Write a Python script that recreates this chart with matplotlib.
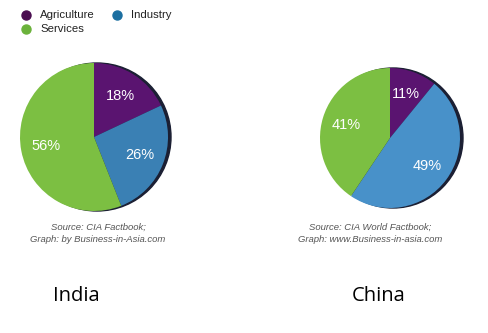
"""Sector share of GDP: India vs China, two pies side by side."""

import matplotlib
matplotlib.use("Agg")
import matplotlib.pyplot as plt
import matplotlib.patches as mpatches

sectors = ["Agriculture", "Industry", "Services"]
india_share = [18, 26, 56]
china_share = [11, 49, 41]

india_source = "Source: CIA Factbook;\nGraph: by Business-in-Asia.com"
china_source = "Source: CIA World Factbook;\nGraph: www.Business-in-asia.com"

W, H = 489, 333
SECTOR_COLOURS = {"india": ["#5a1470", "#3a80b4", "#7cbf42"],
                  "china": ["#5a1470", "#4891c9", "#7cbf42"]}
LEGEND_COLOURS = ["#4a0d50", "#1c6fa1", "#6bb23b"]


def draw_pie(ax, values, colours, cx, cy, r):
    total = sum(values)
    # thin dark rim peeking out on the right, fakes the 3D edge
    ax.add_patch(mpatches.Circle((cx + 3, cy), r, color="#1b1f33", zorder=1))
    wedges, _, autotexts = ax.pie(
        values, colors=colours, center=(cx, cy), radius=r,
        startangle=90, counterclock=False,
        # show the stated figure, not the renormalised share (China adds to 101)
        autopct=lambda p: f"{round(p * total / 100):d}%", pctdistance=0.66,
        wedgeprops=dict(linewidth=0),
        textprops=dict(color="white", fontsize=10.5, family="Liberation Sans"),
    )
    for w in wedges:
        w.set_zorder(2)
    for t in autotexts:
        t.set_zorder(3)


fig = plt.figure(figsize=(W / 100, H / 100), dpi=100)
ax = fig.add_axes([0, 0, 1, 1])

draw_pie(ax, india_share, SECTOR_COLOURS["india"], 94, H - 137, 74)
draw_pie(ax, china_share, SECTOR_COLOURS["china"], 390, H - 138, 70)

ax.set_xlim(0, W)
ax.set_ylim(0, H)
ax.set_aspect("equal")
ax.axis("off")

# legend: dot + label
legend_pos = [(26, 15), (117, 15), (26, 29)]
for name, col, (x, y) in zip(sectors, LEGEND_COLOURS, legend_pos):
    ax.plot(x, H - y, "o", color=col, markersize=6.5)
    ax.text(x + 14, H - y, name, fontsize=8.2, family="Liberation Sans",
            color="#222", va="center", ha="left")

for txt, x in [(india_source, 98), (china_source, 370)]:
    ax.text(x, H - 233, txt, fontsize=6.8, style="italic", family="Liberation Sans",
            color="#555", ha="center", va="center", linespacing=1.45)

ax.text(76, H - 296, "India", fontsize=14.5, family="Open Sans",
        color="black", ha="center", va="center")
ax.text(379, H - 296, "China", fontsize=14.5, family="Open Sans",
        color="black", ha="center", va="center")

fig.savefig("out.png", dpi=100)
